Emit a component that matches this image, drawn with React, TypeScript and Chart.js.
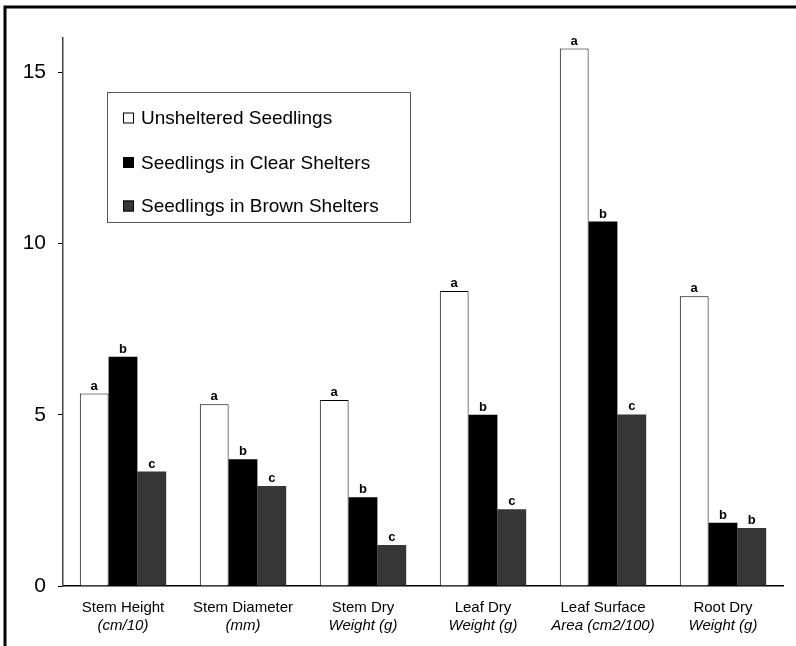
import React, { useEffect, useRef } from "react";
import { Chart, registerables } from "chart.js";

Chart.register(...registerables);

const categoryLine1 = ["Stem Height", "Stem Diameter", "Stem Dry", "Leaf Dry", "Leaf Surface", "Root Dry"];
const categoryLine2 = ["(cm/10)", "(mm)", "Weight (g)", "Weight (g)", "Area (cm2/100)", "Weight (g)"];

const seriesNames = ["Unsheltered Seedlings", "Seedlings in Clear Shelters", "Seedlings in Brown Shelters"];

const unsheltered = [5.62, 5.31, 5.43, 8.61, 15.69, 8.46];
const clearShelters = [6.69, 3.7, 2.59, 5.0, 10.64, 1.85];
const brownShelters = [3.34, 2.92, 1.2, 2.24, 5.01, 1.69];

const lettersUnsheltered = ["a", "a", "a", "a", "a", "a"];
const lettersClear = ["b", "b", "b", "b", "b", "b"];
const lettersBrown = ["c", "c", "c", "c", "c", "b"];

const yTicks = [0, 5, 10, 15];

const FONT = "'Liberation Sans', Arial, Helvetica, sans-serif";
const GREY = "#363636";

const decorPlugin = {
  id: "decor",
  beforeDraw(chart: any) {
    const ctx = chart.ctx;
    ctx.save();
    ctx.fillStyle = "#fff";
    ctx.fillRect(0, 0, chart.width, chart.height);
    ctx.strokeStyle = "#000";
    ctx.lineWidth = 3;
    ctx.beginPath();
    ctx.moveTo(5, chart.height);
    ctx.lineTo(5, 7);
    ctx.lineTo(chart.width, 7);
    ctx.stroke();
    ctx.restore();
  },
  afterDraw(chart: any) {
    const ctx = chart.ctx;
    ctx.save();
    const letterSets = [lettersUnsheltered, lettersClear, lettersBrown];
    ctx.fillStyle = "#000";
    ctx.font = `bold 13px ${FONT}`;
    ctx.textAlign = "center";
    ctx.textBaseline = "alphabetic";
    chart.data.datasets.forEach((_: any, di: number) => {
      const meta = chart.getDatasetMeta(di);
      meta.data.forEach((bar: any, i: number) => {
        ctx.fillText(letterSets[di][i], bar.x, bar.y - 4);
      });
    });
    const xScale = chart.scales.x;
    ctx.textBaseline = "middle";
    categoryLine1.forEach((lab, i) => {
      const x = xScale.getPixelForValue(i);
      ctx.font = `15px ${FONT}`;
      ctx.fillText(lab, x, 608);
      ctx.font = `italic 15px ${FONT}`;
      ctx.fillText(categoryLine2[i], x, 625.5);
    });
    ctx.strokeStyle = "#555";
    ctx.lineWidth = 1;
    ctx.strokeRect(107.5, 92.5, 303, 130);
    const rowsY = [118, 162.5, 206];
    const fills = ["#fff", "#000", GREY];
    ctx.textAlign = "left";
    ctx.font = `19px ${FONT}`;
    seriesNames.forEach((name, i) => {
      const y = rowsY[i];
      ctx.fillStyle = fills[i];
      ctx.fillRect(123, y - 5.5, 11, 11);
      ctx.strokeStyle = "#000";
      ctx.strokeRect(123.5, y - 5, 10, 10);
      ctx.fillStyle = "#000";
      ctx.fillText(name, 141, y + 1);
    });
    ctx.restore();
  },
};

export default function App() {
  const canvasRef = useRef<HTMLCanvasElement | null>(null);

  useEffect(() => {
    if (!canvasRef.current) return;
    const chart = new Chart(canvasRef.current, {
      type: "bar",
      data: {
        labels: categoryLine1,
        datasets: [
          {
            label: seriesNames[0],
            data: unsheltered,
            backgroundColor: "#fff",
            borderColor: "#000",
            borderWidth: 1,
          },
          {
            label: seriesNames[1],
            data: clearShelters,
            backgroundColor: "#000",
            borderColor: "#000",
            borderWidth: 0,
          },
          {
            label: seriesNames[2],
            data: brownShelters,
            backgroundColor: GREY,
            borderColor: GREY,
            borderWidth: 0,
          },
        ],
      },
      options: {
        animation: false,
        responsive: true,
        maintainAspectRatio: false,
        layout: { padding: { top: 38, right: 13, bottom: 60, left: 0 } },
        datasets: { bar: { categoryPercentage: 0.72, barPercentage: 1 } },
        plugins: {
          legend: { display: false },
          tooltip: { enabled: false },
        },
        scales: {
          x: {
            grid: { display: false },
            ticks: { display: false },
            border: { display: true, color: "#000", width: 1.5 },
            afterFit: (s: any) => {
              s.height = 0;
            },
          },
          y: {
            min: 0,
            max: 16,
            afterBuildTicks: (s: any) => {
              s.ticks = yTicks.map((v) => ({ value: v }));
            },
            grid: {
              drawOnChartArea: false,
              drawTicks: true,
              tickLength: 5,
              color: "#000",
            },
            border: { display: true, color: "#444", width: 1.5 },
            ticks: {
              color: "#000",
              padding: 12,
              font: { family: FONT, size: 21 },
            },
            afterFit: (s: any) => {
              s.width = 63;
            },
          },
        },
      },
      plugins: [decorPlugin],
    });
    return () => chart.destroy();
  }, []);

  return (
    <div style={{ position: "fixed", left: 0, top: 0, width: 796, height: 646, background: "#fff" }}>
      <canvas ref={canvasRef} />
    </div>
  );
}
